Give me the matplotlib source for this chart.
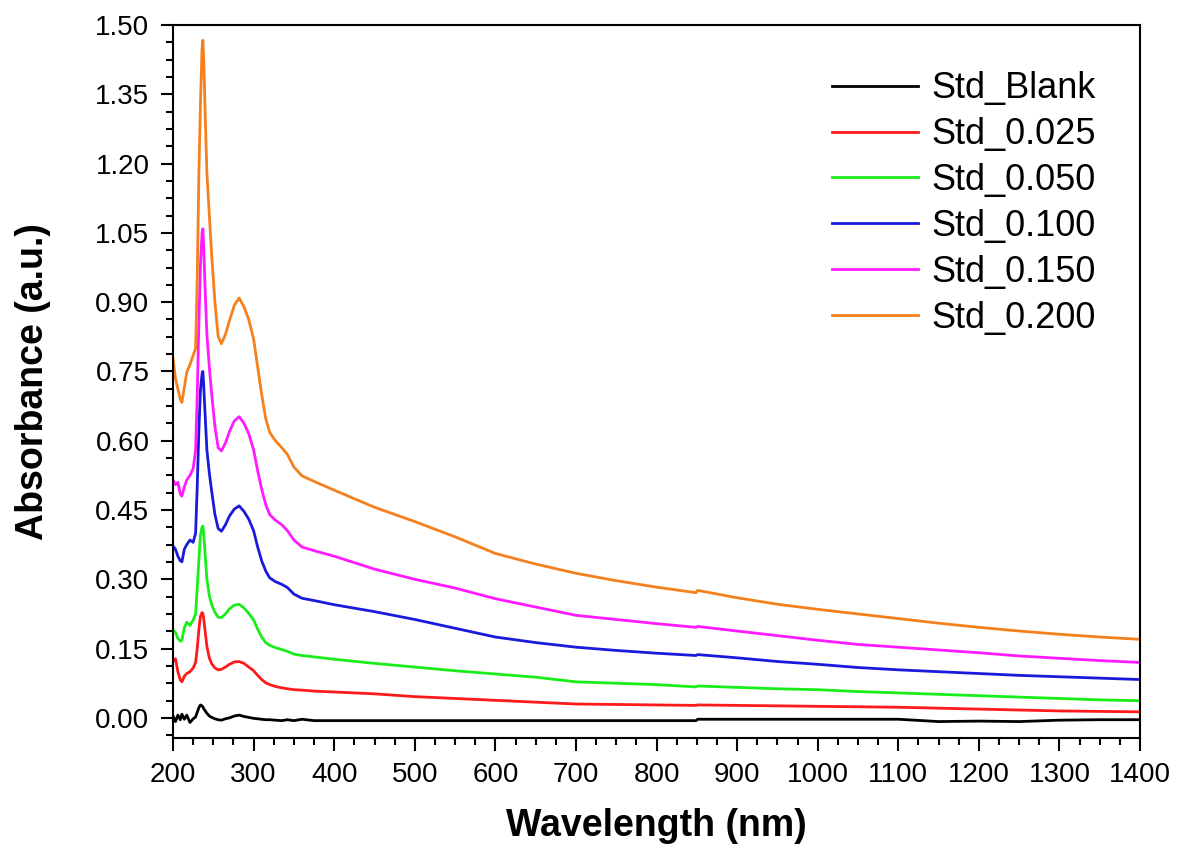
import numpy as np
import matplotlib
matplotlib.use("Agg")
import matplotlib.pyplot as plt
from matplotlib.ticker import MultipleLocator, FormatStrFormatter

plt.rcParams['font.family'] = ['Liberation Sans', 'DejaVu Sans']

# wavelength grid (nm), shared by all spectra
wavelength = [200, 203, 206, 209, 211, 214, 217, 221, 225, 228,
              230, 232, 234, 236, 237, 238, 240, 242, 245, 248,
              252, 256, 260, 265, 270, 276, 282, 288, 294, 300,
              305, 310, 315, 320, 327, 335, 342, 350, 360, 375,
              400, 450, 500, 550, 600, 650, 700, 750, 800, 849,
              851, 900, 950, 1000, 1050, 1100, 1150, 1200, 1250, 1300,
              1350, 1400]

std_blank = [0.004, -0.008, 0.006, -0.004, 0.008, -0.003, 0.006, -0.010, -0.002, 0.002,
             0.012, 0.022, 0.028, 0.026, 0.024, 0.020, 0.015, 0.010, 0.004, 0.001,
             -0.002, -0.004, -0.005, -0.002, 0.000, 0.004, 0.006, 0.003, 0.001, -0.001,
             -0.002, -0.003, -0.004, -0.004, -0.005, -0.006, -0.004, -0.006, -0.003, -0.006,
             -0.006, -0.006, -0.006, -0.006, -0.006, -0.006, -0.006, -0.006, -0.006, -0.006,
             -0.003, -0.003, -0.003, -0.003, -0.003, -0.003, -0.008, -0.007, -0.008, -0.005,
             -0.004, -0.004]

std_0025 = [0.122, 0.128, 0.100, 0.082, 0.078, 0.090, 0.096, 0.100, 0.108, 0.120,
            0.150, 0.190, 0.220, 0.228, 0.226, 0.215, 0.185, 0.155, 0.130, 0.117,
            0.108, 0.104, 0.105, 0.110, 0.116, 0.121, 0.122, 0.118, 0.110, 0.102,
            0.092, 0.083, 0.076, 0.072, 0.068, 0.065, 0.063, 0.061, 0.060, 0.058,
            0.056, 0.052, 0.046, 0.042, 0.038, 0.034, 0.030, 0.029, 0.028, 0.027,
            0.028, 0.027, 0.026, 0.025, 0.024, 0.023, 0.021, 0.019, 0.017, 0.015,
            0.014, 0.013]

std_0050 = [0.191, 0.185, 0.172, 0.166, 0.168, 0.195, 0.207, 0.200, 0.212, 0.225,
            0.280, 0.340, 0.395, 0.413, 0.415, 0.400, 0.350, 0.300, 0.265, 0.245,
            0.228, 0.218, 0.217, 0.225, 0.236, 0.244, 0.246, 0.238, 0.226, 0.212,
            0.192, 0.175, 0.163, 0.157, 0.152, 0.148, 0.144, 0.138, 0.135, 0.132,
            0.127, 0.118, 0.110, 0.102, 0.095, 0.088, 0.078, 0.075, 0.072, 0.067,
            0.069, 0.066, 0.063, 0.061, 0.057, 0.054, 0.051, 0.048, 0.045, 0.042,
            0.039, 0.037]

std_0100 = [0.372, 0.365, 0.350, 0.340, 0.338, 0.365, 0.375, 0.385, 0.380, 0.400,
            0.500, 0.620, 0.710, 0.745, 0.750, 0.720, 0.650, 0.580, 0.530, 0.490,
            0.440, 0.410, 0.404, 0.418, 0.437, 0.452, 0.459, 0.447, 0.430, 0.405,
            0.370, 0.340, 0.318, 0.303, 0.295, 0.289, 0.282, 0.268, 0.259, 0.254,
            0.245, 0.230, 0.213, 0.194, 0.175, 0.163, 0.153, 0.146, 0.140, 0.135,
            0.137, 0.130, 0.122, 0.116, 0.109, 0.104, 0.100, 0.096, 0.092, 0.089,
            0.086, 0.083]

std_0150 = [0.515, 0.505, 0.510, 0.485, 0.480, 0.500, 0.515, 0.525, 0.540, 0.580,
            0.700, 0.850, 0.980, 1.050, 1.059, 1.020, 0.920, 0.830, 0.760, 0.700,
            0.630, 0.585, 0.578, 0.595, 0.620, 0.643, 0.652, 0.638, 0.615, 0.580,
            0.535, 0.495, 0.462, 0.440, 0.428, 0.418, 0.405, 0.385, 0.370, 0.362,
            0.350, 0.322, 0.300, 0.281, 0.258, 0.240, 0.222, 0.213, 0.204, 0.196,
            0.198, 0.188, 0.178, 0.168, 0.159, 0.153, 0.147, 0.141, 0.134, 0.129,
            0.124, 0.120]

std_0200 = [0.778, 0.735, 0.712, 0.690, 0.683, 0.715, 0.748, 0.765, 0.785, 0.800,
            0.950, 1.170, 1.330, 1.450, 1.467, 1.430, 1.300, 1.180, 1.090, 1.000,
            0.900, 0.825, 0.810, 0.830, 0.860, 0.893, 0.909, 0.890, 0.862, 0.820,
            0.760, 0.700, 0.648, 0.618, 0.600, 0.585, 0.570, 0.543, 0.524, 0.512,
            0.493, 0.456, 0.425, 0.392, 0.356, 0.333, 0.313, 0.297, 0.283, 0.271,
            0.276, 0.260, 0.246, 0.235, 0.225, 0.215, 0.205, 0.196, 0.188, 0.181,
            0.175, 0.170]

labels = ['Std_Blank', 'Std_0.025', 'Std_0.050', 'Std_0.100', 'Std_0.150', 'Std_0.200']
colors = ['black', '#ff1a1a', '#1aee1a', '#1a1adc', '#ff1aff', '#f5801e']
series = [std_blank, std_0025, std_0050, std_0100, std_0150, std_0200]

fig = plt.figure(figsize=(11.82, 8.57), dpi=100)
ax = fig.add_axes([0.1464, 0.1389, 0.8181, 0.8319])

for y, lab, c in zip(series, labels, colors):
    ax.plot(wavelength, y, color=c, lw=2, label=lab)

ax.set_xlim(200, 1400)
ax.set_ylim(-0.0435, 1.5)
ax.xaxis.set_major_locator(MultipleLocator(100))
ax.xaxis.set_minor_locator(MultipleLocator(25))
ax.yaxis.set_major_locator(MultipleLocator(0.15))
ax.yaxis.set_minor_locator(MultipleLocator(0.0375))
ax.yaxis.set_major_formatter(FormatStrFormatter('%.2f'))

ax.tick_params(which='major', direction='out', length=9, width=1.5, labelsize=20, pad=8)
ax.tick_params(which='minor', direction='out', length=5, width=1.5)
for s in ax.spines.values():
    s.set_linewidth(1.5)

ax.set_xlabel('Wavelength (nm)', fontsize=27, fontweight='bold', labelpad=15)
ax.set_ylabel('Absorbance (a.u.)', fontsize=27, fontweight='bold', labelpad=32)

ax.legend(loc='upper left', bbox_to_anchor=(0.681, 0.935), frameon=False,
          fontsize=26, handlelength=2.4, handletextpad=0.37, labelspacing=0.3,
          borderpad=0, borderaxespad=0)

fig.savefig('out.png', dpi=100)
